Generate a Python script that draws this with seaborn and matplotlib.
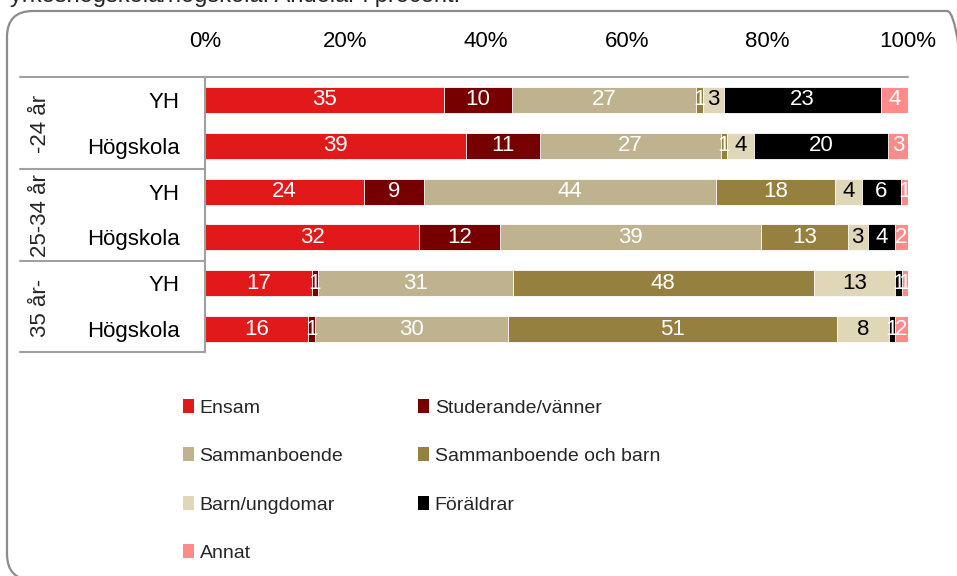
import numpy as np
import pandas as pd
import matplotlib
matplotlib.use("Agg")
import matplotlib.pyplot as plt
import seaborn as sns
from matplotlib.patches import Patch, FancyBboxPatch

# === Data
aldersgrupper = ["-24 år", "25-34 år", "35 år-"]
utbildning = ["YH", "Högskola", "YH", "Högskola", "YH", "Högskola"]
rad_id = ["r0", "r1", "r2", "r3", "r4", "r5"]

kategorier = ["Ensam", "Studerande/vänner", "Sammanboende",
              "Sammanboende och barn", "Barn/ungdomar", "Föräldrar", "Annat"]
ensam = [35, 39, 24, 32, 17, 16]
studerande = [10, 11, 9, 12, 1, 1]
sammanboende = [27, 27, 44, 39, 31, 30]
sammanboende_barn = [1, 1, 18, 13, 48, 51]
barn_ungdomar = [3, 4, 4, 3, 13, 8]
foraldrar = [23, 20, 6, 4, 1, 1]
annat = [4, 3, 1, 2, 1, 2]

farger = ["#E2191B", "#760000", "#BFB38F", "#968040", "#E0D7B8", "#000000", "#FF8A8A"]
textfarger = ["white", "white", "white", "white", "black", "white", "white"]

df = pd.DataFrame({
    "rad": rad_id,
    "Ensam": ensam,
    "Studerande/vänner": studerande,
    "Sammanboende": sammanboende,
    "Sammanboende och barn": sammanboende_barn,
    "Barn/ungdomar": barn_ungdomar,
    "Föräldrar": foraldrar,
    "Annat": annat,
})
andel = df[kategorier].div(df[kategorier].sum(axis=1), axis=0) * 100
kum = andel.cumsum(axis=1)
kum["rad"] = df["rad"]

# === Figur
sns.set_theme(style="white")
plt.rcParams["font.family"] = ["Liberation Sans", "DejaVu Sans"]
fs = 16
fs_leg = 14
W, H = 957, 576
fig = plt.figure(figsize=(W / 100, H / 100), dpi=100)
ax = fig.add_axes([205 / W, 1 - 352 / H, (908 - 205) / W, (352 - 77) / H])

# staplade staplar: rita kumulativa summor bakifrån
for i in reversed(range(len(kategorier))):
    sns.barplot(data=kum, x=kategorier[i], y="rad", order=rad_id, orient="h",
                color=farger[i], saturation=1, width=0.57,
                edgecolor="white", linewidth=0.6, ax=ax)

# värdeetiketter
for r in range(len(rad_id)):
    for i, kat in enumerate(kategorier):
        mitt = kum.loc[r, kat] - andel.loc[r, kat] / 2
        ax.text(mitt, r, str(df.loc[r, kat]), ha="center", va="center",
                color=textfarger[i], fontsize=fs)

ax.set_xlim(0, 100)
ax.xaxis.tick_top()
ax.set_xticks(np.arange(0, 101, 20))
ax.set_xticklabels([f"{t}%" for t in range(0, 101, 20)], fontsize=fs)
ax.set_yticks(range(len(rad_id)))
ax.set_yticklabels(utbildning, fontsize=fs)
ax.tick_params(axis="x", length=0, pad=18, colors="black")
ax.tick_params(axis="y", length=0, pad=18, colors="black")
ax.set_xlabel("")
ax.set_ylabel("")
for s in ["top", "right", "bottom"]:
    ax.spines[s].set_visible(False)
ax.spines["left"].set_color("#A0A0A0")
ax.spines["left"].set_linewidth(1.5)

# === Ram, tabellinjer och åldersgrupper (pixlar, y från toppen)
ov = fig.add_axes([0, 0, 1, 1], zorder=5)
ov.patch.set_alpha(0)
ov.set_xlim(0, W)
ov.set_ylim(0, H)
ov.set_autoscale_on(False)
ov.axis("off")


def py(y):
    return H - y


ov.add_patch(FancyBboxPatch((7, py(580)), 966, 569,
                            boxstyle="round,pad=0,rounding_size=26",
                            fill=False, edgecolor="#8C8C8C", linewidth=1.6))
ov.plot([20, 908], [py(77), py(77)], color="#A0A0A0", lw=1.5)
for y in [169, 261, 352]:
    ov.plot([20, 205], [py(y), py(y)], color="#A0A0A0", lw=1.5)
for j, grupp in enumerate(aldersgrupper):
    ov.text(40, py(124 + j * 92), grupp, rotation=90, ha="center", va="center", fontsize=fs)

ov.text(10, py(2), "yrkeshögskola/högskola. Andelar i procent.", ha="left",
        va="baseline", fontsize=17)

# === Legend (radvis ordning)
handtag = [Patch(facecolor=f, edgecolor="none") for f in farger]
ordning = [0, 2, 4, 6, 1, 3, 5]
fig.legend([handtag[k] for k in ordning], [kategorier[k] for k in ordning],
           ncol=2, loc="upper left", bbox_to_anchor=(183 / W, 1 - 399 / H),
           frameon=False, fontsize=fs_leg, borderpad=0, borderaxespad=0,
           handlelength=0.55, handleheight=0.72, handletextpad=0.3,
           labelspacing=1.58, columnspacing=3.85)

fig.savefig("out.png", dpi=100)
